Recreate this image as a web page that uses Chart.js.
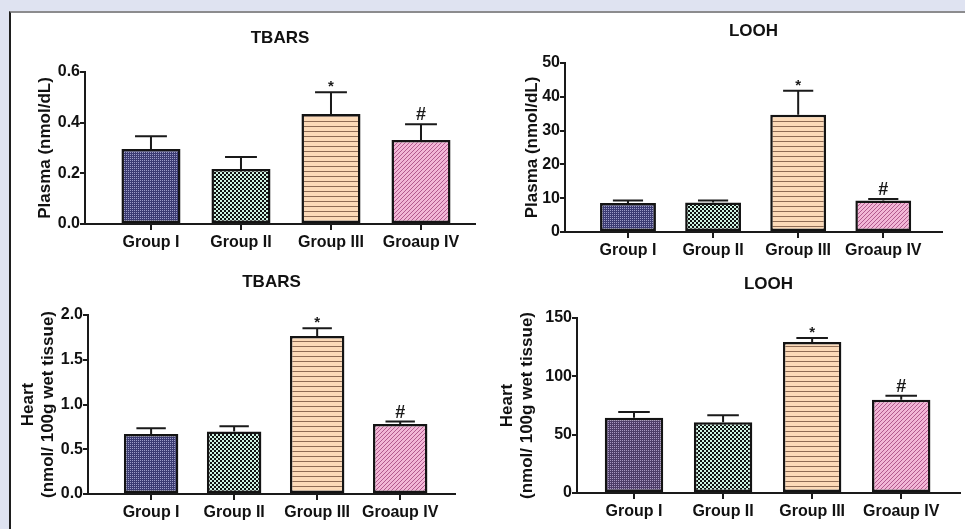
<!DOCTYPE html>
<html>
<head>
<meta charset="utf-8">
<script src="https://cdn.jsdelivr.net/npm/chart.js@4"></script>
<style>
  html, body { margin: 0; padding: 0; }
  body { width: 965px; height: 529px; background: #dfe3f1; position: relative; overflow: hidden; }
  #panel { position: absolute; left: 9px; top: 11px; right: 0; bottom: 0; background: #fff;
           border-top: 2px solid #8c8c8e; border-left: 2px solid #1e1e1e; }
  canvas { position: absolute; }
</style>
</head>
<body>
<div id="panel"></div>
<canvas id="c1" style="left:0;top:12px" width="480" height="242"></canvas>
<canvas id="c2" style="left:480px;top:12px" width="485" height="250"></canvas>
<canvas id="c3" style="left:0;top:262px" width="480" height="262"></canvas>
<canvas id="c4" style="left:480px;top:262px" width="485" height="261"></canvas>
<script>
const groups = ['Group I', 'Group II', 'Group III', 'Groaup IV'];
const marks = ['', '', '*', '#'];

// plasma
const plasmaTbars = [0.296, 0.217, 0.434, 0.332];
const plasmaTbarsErr = [0.05, 0.047, 0.086, 0.062];
const plasmaLooh = [8.6, 8.7, 34.7, 9.3];
const plasmaLoohErr = [0.7, 0.6, 7.1, 0.5];

// heart
const heartTbars = [0.669, 0.699, 1.766, 0.781];
const heartTbarsErr = [0.067, 0.059, 0.085, 0.029];
const heartLooh = [64.6, 60.6, 129.4, 80];
const heartLoohErr = [4.8, 6, 3.5, 3.4];

const FONT = "'Liberation Sans', Arial, sans-serif";

const tile = (w, h, draw) => {
    const c = document.createElement('canvas');
    c.width = w;
    c.height = h;
    const g = c.getContext('2d');
    draw(g);
    return g.createPattern(c, 'repeat');
};

const dotted = (dark, light) => tile(2, 2, (g) => {
    g.fillStyle = dark;
    g.fillRect(0, 0, 2, 2);
    g.fillStyle = light;
    g.fillRect(0, 0, 1, 1);
});

const checker = tile(4, 4, (g) => {
    g.fillStyle = '#111';
    g.fillRect(0, 0, 4, 4);
    g.fillStyle = '#cdf3e2';
    g.fillRect(0, 0, 2, 2);
    g.fillRect(2, 2, 2, 2);
});

const stripes = tile(1, 5, (g) => {
    g.fillStyle = '#fcdab8';
    g.fillRect(0, 0, 1, 5);
    g.fillStyle = '#8f6c55';
    g.fillRect(0, 4, 1, 1);
});

const hatch = tile(4, 4, (g) => {
    g.fillStyle = '#f2b6d6';
    g.fillRect(0, 0, 4, 4);
    g.fillStyle = '#b25a8e';
    for (let i = 0; i < 4; i++) g.fillRect(3 - i, i, 1, 1);
});

const errorBars = {
    id: 'errorBars',
    afterDatasetsDraw(chart, args, opts) {
        const { ctx, scales: { x, y } } = chart;
        const meta = chart.getDatasetMeta(0);
        const vals = chart.data.datasets[0].data;
        ctx.save();
        ctx.strokeStyle = '#1a1a1a';
        ctx.lineWidth = 2;
        ctx.fillStyle = '#1a1a1a';
        ctx.textAlign = 'center';
        vals.forEach((d, i) => {
            const px = x.getPixelForValue(d.x);
            const top = y.getPixelForValue(d.y);
            const hi = y.getPixelForValue(d.y + opts.err[i]);
            const half = meta.data[i].width * 0.27;
            ctx.beginPath();
            ctx.moveTo(px, top);
            ctx.lineTo(px, hi);
            ctx.moveTo(px - half, hi);
            ctx.lineTo(px + half, hi);
            ctx.stroke();
            if (marks[i] === '*') {
                ctx.font = 'bold 15px ' + FONT;
                ctx.fillText('*', px, hi - 1);
            } else if (marks[i] === '#') {
                ctx.font = 'bold 18px ' + FONT;
                ctx.fillText('#', px, hi - 4);
            }
        });
        ctx.restore();
    }
};

const makeChart = (id, cfg) => {
    const fills = [cfg.first, checker, stripes, hatch];
    return new Chart(document.getElementById(id), {
        type: 'bar',
        data: {
            datasets: [{
                data: cfg.values.map((v, i) => ({ x: i, y: v })),
                backgroundColor: fills,
                borderColor: '#141414',
                borderWidth: 2.5,
                borderSkipped: false,
                barPercentage: 0.8,
                categoryPercentage: 0.82
            }]
        },
        options: {
            responsive: false,
            animation: false,
            events: [],
            layout: { padding: { left: 0, right: cfg.padRight, top: 0, bottom: 0 } },
            plugins: {
                legend: { display: false },
                tooltip: { enabled: false },
                title: {
                    display: true,
                    text: cfg.title,
                    fullSize: false,
                    color: '#111',
                    font: { family: FONT, size: 17, weight: 'bold' },
                    padding: { top: cfg.titleTop, bottom: cfg.titleBottom }
                },
                errorBars: { err: cfg.err }
            },
            scales: {
                x: {
                    type: 'linear',
                    offset: false,
                    min: cfg.xMin,
                    max: cfg.xMax,
                    // one tick per group, at the group's index
                    afterBuildTicks: (s) => { s.ticks = groups.map((g, i) => ({ value: i })); },
                    afterFit: (s) => { s.height = 30; },
                    ticks: {
                        stepSize: 1,
                        padding: 3,
                        color: '#111',
                        maxRotation: 0,
                        autoSkip: false,
                        font: { family: FONT, size: 16, weight: 'bold' },
                        callback: (v) => groups[v] ?? ''
                    },
                    grid: { offset: false, drawOnChartArea: false, color: '#1a1a1a', lineWidth: 2, tickLength: 6 },
                    border: { color: '#1a1a1a', width: 2 }
                },
                y: {
                    min: 0,
                    max: cfg.yMax,
                    afterFit: (s) => { s.width = cfg.yWidth; },
                    ticks: {
                        stepSize: cfg.step,
                        padding: 0,
                        color: '#111',
                        font: { family: FONT, size: 16, weight: 'bold' },
                        callback: (v) => cfg.fmt(v)
                    },
                    grid: { drawOnChartArea: false, color: '#1a1a1a', lineWidth: 2, tickLength: 5 },
                    border: { color: '#1a1a1a', width: 2 },
                    title: {
                        display: true,
                        text: cfg.yTitle,
                        color: '#111',
                        font: { family: FONT, size: 17, weight: 'bold' },
                        padding: { top: cfg.yTitlePad, bottom: 0 }
                    }
                }
            }
        },
        plugins: [errorBars]
    });
};

const navy = dotted('#3b3b72', '#9d9dc8');
const plum = dotted('#4d3d68', '#a898c2');

makeChart('c1', {
    title: 'TBARS', values: plasmaTbars, err: plasmaTbarsErr, first: navy,
    yTitle: 'Plasma (nmol/dL)', yMax: 0.6, step: 0.2, fmt: (v) => v.toFixed(1),
    yWidth: 85, yTitlePad: 34.8, padRight: 5, titleTop: 16, titleBottom: 23.6,
    xMin: -0.733, xMax: 3.6
});

makeChart('c2', {
    title: 'LOOH', values: plasmaLooh, err: plasmaLoohErr, first: navy,
    yTitle: 'Plasma (nmol/dL)', yMax: 50, step: 10, fmt: (v) => v,
    yWidth: 85, yTitlePad: 41.8, padRight: 23, titleTop: 9, titleBottom: 21.6,
    xMin: -0.74, xMax: 3.69
});

makeChart('c3', {
    title: 'TBARS', values: heartTbars, err: heartTbarsErr, first: navy,
    yTitle: ['Heart', '(nmol/ 100g wet tissue)'], yMax: 2, step: 0.5, fmt: (v) => v.toFixed(1),
    yWidth: 88, yTitlePad: 17.8, padRight: 25, titleTop: 10, titleBottom: 22.6,
    xMin: -0.76, xMax: 3.66
});

makeChart('c4', {
    title: 'LOOH', values: heartLooh, err: heartLoohErr, first: plum,
    yTitle: ['Heart', '(nmol/ 100g wet tissue)'], yMax: 150, step: 50, fmt: (v) => v,
    yWidth: 97, yTitlePad: 16.8, padRight: 5, titleTop: 12, titleBottom: 23.6,
    xMin: -0.64, xMax: 3.66
});
</script>
</body>
</html>
